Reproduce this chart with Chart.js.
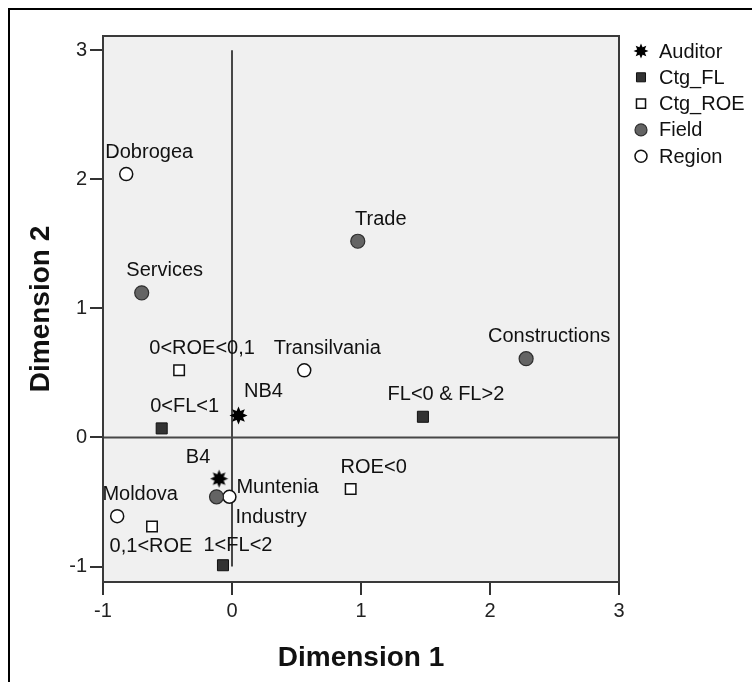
<!DOCTYPE html>
<html>
<head>
<meta charset="utf-8">
<script src="https://cdn.jsdelivr.net/npm/chart.js@4.4.1/dist/chart.umd.min.js"></script>
<style>
  html, body { margin: 0; padding: 0; background: #fff; }
  canvas { display: block; }
</style>
</head>
<body>
<canvas id="chart" width="752" height="682"></canvas>
<script>
  // Values
  const auditorNames = ['NB4', 'B4'];
  const auditorX = [0.05, -0.10];
  const auditorY = [0.17, -0.32];

  const flNames = ['0<FL<1', 'FL<0 & FL>2', '1<FL<2'];
  const flX = [-0.545, 1.48, -0.07];
  const flY = [0.07, 0.16, -0.99];

  const roeNames = ['0<ROE<0,1', 'ROE<0', '0,1<ROE'];
  const roeX = [-0.41, 0.92, -0.62];
  const roeY = [0.52, -0.40, -0.69];

  const fieldNames = ['Services', 'Trade', 'Constructions', 'Industry'];
  const fieldX = [-0.70, 0.975, 2.28, -0.12];
  const fieldY = [1.12, 1.52, 0.61, -0.46];

  const regionNames = ['Dobrogea', 'Transilvania', 'Muntenia', 'Moldova'];
  const regionX = [-0.82, 0.56, -0.02, -0.89];
  const regionY = [2.04, 0.52, -0.46, -0.61];

  const seriesNames = ['Auditor', 'Ctg_FL', 'Ctg_ROE', 'Field', 'Region'];
  const xTicks = [-1, 0, 1, 2, 3];
  const yTicks = [-1, 0, 1, 2, 3];

  const FONT = "'Liberation Sans', Arial, sans-serif";

  // label placement relative to the point (pixels)
  const labelOffset = {
    'NB4': [25, -24, 'center'],
    'B4': [-21, -21, 'center'],
    'Muntenia': [7, -9, 'left'],
    'Industry': [19, 21, 'left'],
    '0,1<ROE': [-1, 20, 'center'],
    '1<FL<2': [15, -20, 'center']
  };

  // black starburst used for the Auditor points
  function makeStar(size) {
    const c = document.createElement('canvas');
    c.width = size; c.height = size;
    const g = c.getContext('2d');
    const cx = size / 2, cy = size / 2;
    const outer = size / 2 - 0.5, inner = outer * 0.55;
    const spikes = 8;
    g.beginPath();
    for (let i = 0; i < spikes * 2; i++) {
      const r = i % 2 === 0 ? outer : inner;
      const a = Math.PI * i / spikes - Math.PI / 2;
      g.lineTo(cx + r * Math.cos(a), cy + r * Math.sin(a));
    }
    g.closePath();
    g.fillStyle = '#000';
    g.fill();
    return c;
  }
  const starBig = makeStar(19);
  const starSmall = makeStar(16);

  function toPoints(xs, ys, names) {
    return xs.map((x, i) => ({ x: x, y: ys[i], label: names[i] }));
  }

  const bgPlugin = {
    id: 'plotDecor',
    beforeDatasetsDraw(chart) {
      const { ctx, chartArea: a, scales } = chart;
      ctx.save();
      ctx.fillStyle = '#f0f0f0';
      ctx.fillRect(a.left, a.top, a.right - a.left, a.bottom - a.top);
      // reference lines through the origin
      ctx.strokeStyle = '#474747';
      ctx.lineWidth = 2;
      const y0 = scales.y.getPixelForValue(0);
      const x0 = scales.x.getPixelForValue(0);
      ctx.beginPath();
      ctx.moveTo(a.left, y0);
      ctx.lineTo(a.right, y0);
      ctx.moveTo(x0, scales.y.getPixelForValue(3));
      ctx.lineTo(x0, scales.y.getPixelForValue(-1));
      ctx.stroke();
      ctx.restore();
    },
    afterDatasetsDraw(chart) {
      const { ctx, chartArea: a } = chart;
      ctx.save();
      ctx.beginPath();
      ctx.rect(a.left, a.top, a.right - a.left, a.bottom - a.top);
      ctx.clip();
      ctx.font = '20px ' + FONT;
      ctx.fillStyle = '#111';
      ctx.textBaseline = 'middle';
      chart.data.datasets.forEach((ds, i) => {
        const meta = chart.getDatasetMeta(i);
        meta.data.forEach((pt, j) => {
          const name = ds.data[j].label;
          const off = labelOffset[name] || [23, -22, 'center'];
          ctx.textAlign = off[2];
          ctx.fillText(name, pt.x + off[0], pt.y + off[1]);
        });
      });
      ctx.restore();

      // plot frame
      ctx.save();
      ctx.strokeStyle = '#3a3a3a';
      ctx.lineWidth = 2;
      ctx.strokeRect(a.left, a.top, a.right - a.left, a.bottom - a.top);
      ctx.restore();
    },
    afterDraw(chart) {
      const { ctx } = chart;
      // outer frame (cut off at right and bottom)
      ctx.save();
      ctx.strokeStyle = '#000';
      ctx.lineWidth = 2;
      ctx.beginPath();
      ctx.moveTo(9, 682);
      ctx.lineTo(9, 9);
      ctx.lineTo(752, 9);
      ctx.stroke();

      // legend
      const lx = 641, ly = 51, step = 26.3;
      ctx.font = '20px ' + FONT;
      ctx.textAlign = 'left';
      ctx.textBaseline = 'middle';
      chart.data.datasets.forEach((ds, i) => {
        const y = ly + i * step;
        if (ds.legendStyle === 'star') {
          ctx.drawImage(starSmall, lx - 8, y - 8);
        } else {
          ctx.fillStyle = ds.backgroundColor;
          ctx.strokeStyle = ds.borderColor;
          ctx.lineWidth = ds.borderWidth;
          Chart.helpers.drawPoint(ctx, {
            pointStyle: ds.legendStyle,
            radius: ds.legendRadius,
            borderWidth: ds.borderWidth
          }, lx, y);
        }
        ctx.fillStyle = '#111';
        ctx.fillText(ds.label, 659, y + 1);
      });
      ctx.restore();
    }
  };

  const ctx = document.getElementById('chart').getContext('2d');
  new Chart(ctx, {
    type: 'scatter',
    data: {
      datasets: [
        {
          label: seriesNames[0],
          data: toPoints(auditorX, auditorY, auditorNames),
          pointStyle: starBig,
          legendStyle: 'star',
          legendRadius: 7,
          backgroundColor: '#000',
          borderColor: '#000',
          borderWidth: 0
        },
        {
          label: seriesNames[1],
          data: toPoints(flX, flY, flNames),
          pointStyle: 'rect',
          legendStyle: 'rect',
          legendRadius: 6.4,
          pointRadius: 7.8,
          backgroundColor: '#333333',
          borderColor: '#111',
          borderWidth: 1
        },
        {
          label: seriesNames[2],
          data: toPoints(roeX, roeY, roeNames),
          pointStyle: 'rect',
          legendStyle: 'rect',
          legendRadius: 6.4,
          pointRadius: 7.4,
          backgroundColor: '#ffffff',
          borderColor: '#111',
          borderWidth: 1.5
        },
        {
          label: seriesNames[3],
          data: toPoints(fieldX, fieldY, fieldNames),
          pointStyle: 'circle',
          legendStyle: 'circle',
          legendRadius: 6,
          pointRadius: 7,
          backgroundColor: '#646464',
          borderColor: '#2e2e2e',
          borderWidth: 1.2
        },
        {
          label: seriesNames[4],
          data: toPoints(regionX, regionY, regionNames),
          pointStyle: 'circle',
          legendStyle: 'circle',
          legendRadius: 6,
          pointRadius: 6.5,
          backgroundColor: '#ffffff',
          borderColor: '#111',
          borderWidth: 1.5
        }
      ]
    },
    options: {
      responsive: false,
      animation: false,
      devicePixelRatio: 1,
      layout: {
        padding: { left: 0, top: 36, right: 133, bottom: 0 }
      },
      plugins: {
        legend: { display: false },
        tooltip: { enabled: false }
      },
      scales: {
        x: {
          type: 'linear',
          min: -1,
          max: 3,
          afterBuildTicks: axis => { axis.ticks = xTicks.map(v => ({ value: v })); },
          afterFit: axis => { axis.height = 100; },
          grid: {
            drawOnChartArea: false,
            drawTicks: true,
            tickLength: 13,
            color: '#333',
            lineWidth: 2
          },
          border: { display: false },
          ticks: {
            color: '#222',
            padding: 4,
            font: { family: FONT, size: 20 }
          },
          title: {
            display: true,
            text: 'Dimension 1',
            color: '#111',
            font: { family: FONT, size: 28, weight: 'bold' },
            padding: { top: 0, bottom: 7 }
          }
        },
        y: {
          type: 'linear',
          min: -1.12,
          max: 3.11,
          afterBuildTicks: axis => { axis.ticks = yTicks.map(v => ({ value: v })); },
          afterFit: axis => { axis.width = 103; },
          grid: {
            drawOnChartArea: false,
            drawTicks: true,
            tickLength: 13,
            color: '#333',
            lineWidth: 2
          },
          border: { display: false },
          ticks: {
            color: '#222',
            padding: 3,
            font: { family: FONT, size: 20 }
          },
          title: {
            display: true,
            text: 'Dimension 2',
            color: '#111',
            font: { family: FONT, size: 28, weight: 'bold' },
            padding: { top: 24, bottom: 0 }
          }
        }
      }
    },
    plugins: [bgPlugin]
  });
</script>
</body>
</html>
